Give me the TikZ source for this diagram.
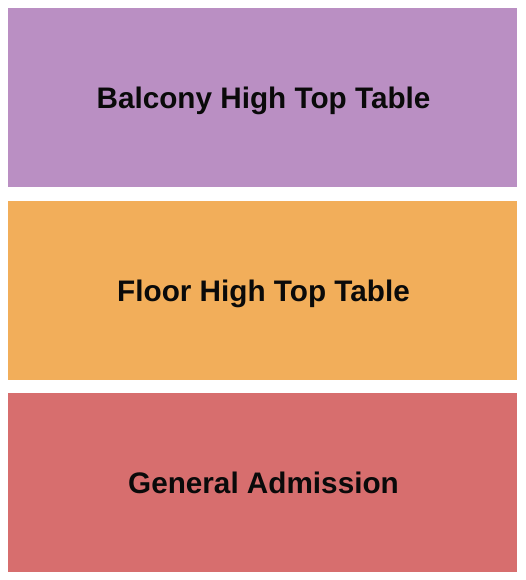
\documentclass[tikz,border=0pt]{standalone}
\usepackage{fontspec}
\setmainfont{Liberation Sans}
\definecolor{balc}{HTML}{BA8FC3}
\definecolor{floorc}{HTML}{F2AE5A}
\definecolor{gac}{HTML}{D76E6E}
\definecolor{txt}{HTML}{0A0A0A}
\begin{document}
\begin{tikzpicture}[x=1pt,y=-1pt,
  section/.style={draw=none,minimum width=509pt,minimum height=179pt,inner sep=0pt,anchor=north west},
  lbl/.style={font=\fontsize{29.7}{34}\selectfont\bfseries,text=txt,anchor=base}]
\useasboundingbox (0,0) rectangle (525,580);
\fill[white] (0,0) rectangle (525,580);
\node[section,fill=balc] (balcony) at (8,8) {};
\node[section,fill=floorc] (floor) at (8,201) {};
\node[section,fill=gac] (ga) at (8,393) {};
\node[lbl] (tb) at (263.5,109) {Balcony High Top Table};
\node[lbl] (tf) at (263.5,301) {Floor High Top Table};
\node[lbl] (tg) at (263.5,493) {General Admission};
\end{tikzpicture}
\end{document}
